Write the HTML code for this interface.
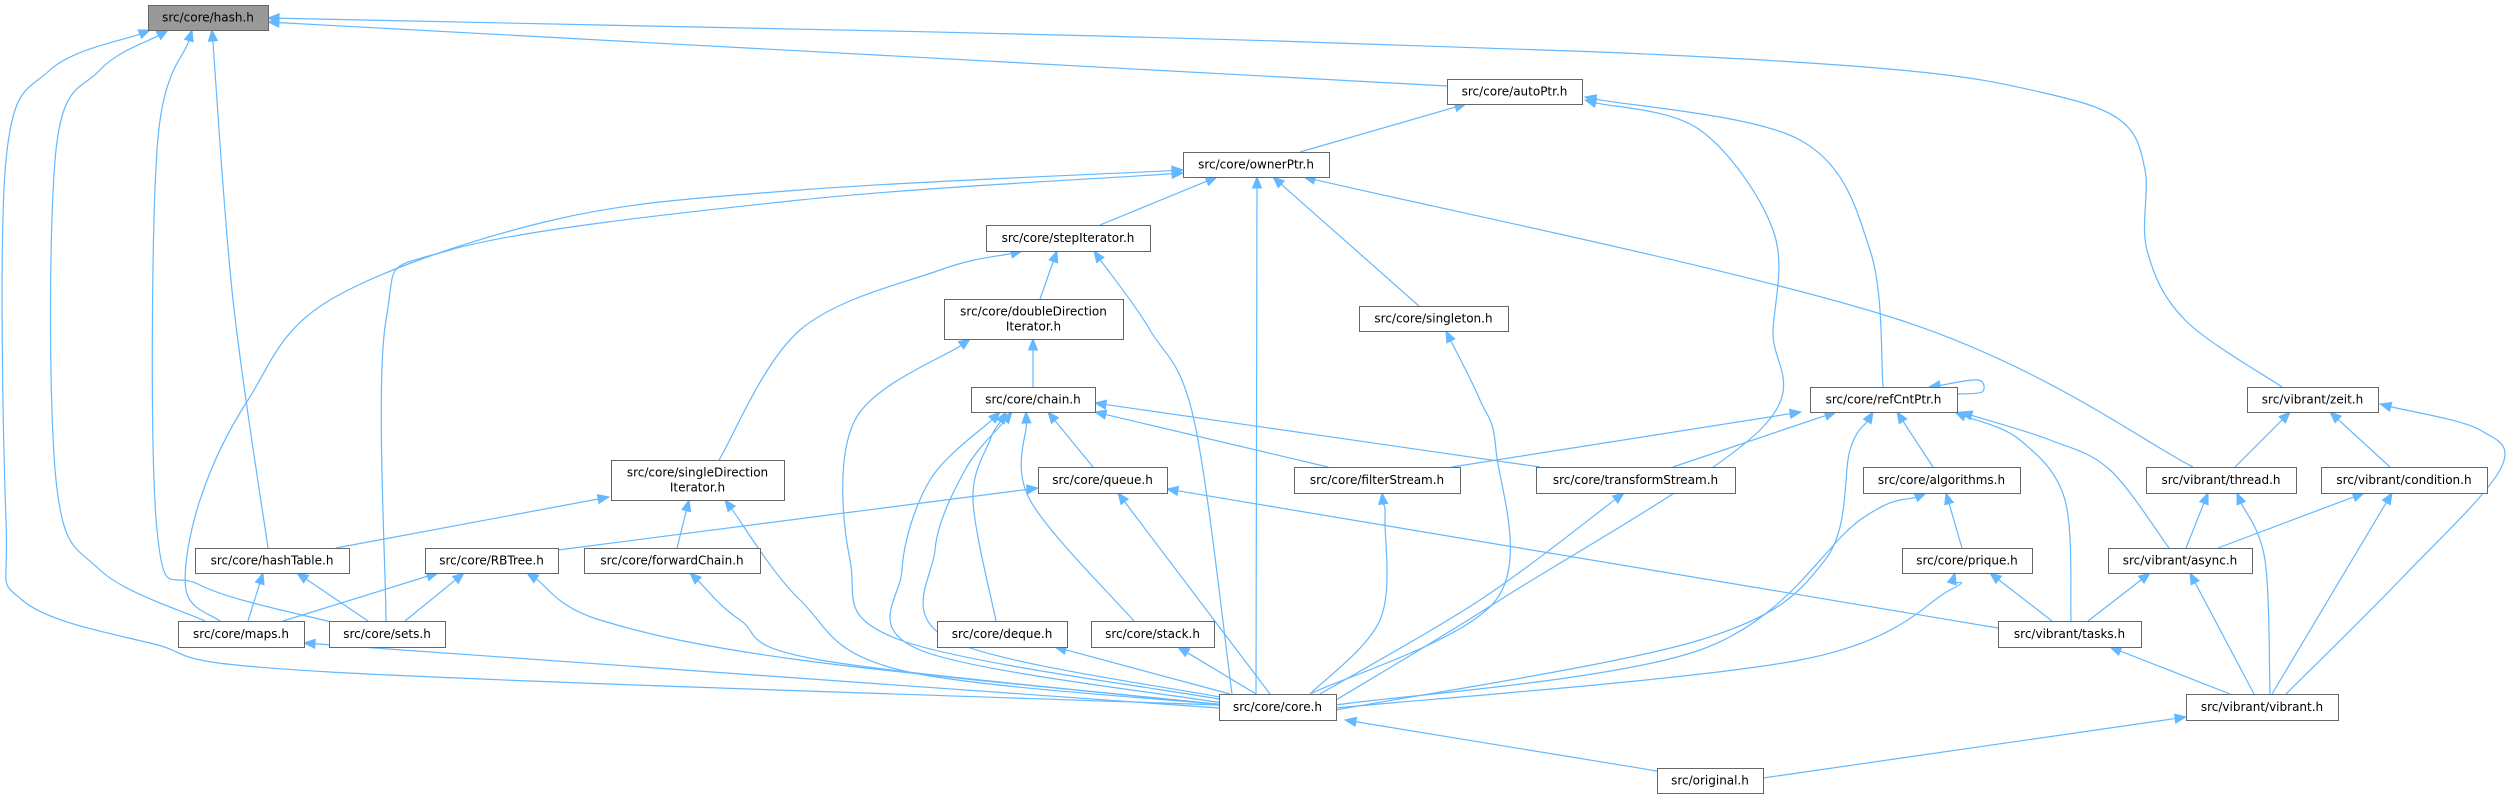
<!DOCTYPE html>
<html><head><meta charset="utf-8"><style>
html,body{margin:0;padding:0;background:#fff;}
svg{display:block}
text{font-family:"DejaVu Sans","Liberation Sans",sans-serif;font-size:12px;fill:#000}
</style></head><body>
<svg id="g" width="2512" height="799" viewBox="0 0 2512 799" xmlns="http://www.w3.org/2000/svg">
<g id="edges" fill="none" stroke="#63b8ff" stroke-width="1.2"></g>
<g id="heads" fill="#63b8ff" stroke="#63b8ff"></g>
<g id="nodes"></g>
</svg>
<script>
var N={
hash:[148,5,268,30,"src/core/hash.h",1],
autoPtr:[1447,79,1582,104,"src/core/autoPtr.h"],
ownerPtr:[1183,152,1329,177,"src/core/ownerPtr.h"],
stepIt:[986,225,1150,251,"src/core/stepIterator.h"],
dbl:[944,299,1123,339,"src/core/doubleDirection|Iterator.h"],
singleton:[1359,306,1508,331,"src/core/singleton.h"],
chain:[971,387,1095,412,"src/core/chain.h"],
ref:[1810,387,1957,412,"src/core/refCntPtr.h"],
zeit:[2247,387,2378,412,"src/vibrant/zeit.h"],
sdi:[611,460,784,500,"src/core/singleDirection|Iterator.h"],
queue:[1038,467,1167,493,"src/core/queue.h"],
filt:[1294,467,1460,493,"src/core/filterStream.h"],
trans:[1536,467,1735,493,"src/core/transformStream.h"],
alg:[1863,467,2020,493,"src/core/algorithms.h"],
thread:[2146,467,2296,493,"src/vibrant/thread.h"],
cond:[2321,467,2487,493,"src/vibrant/condition.h"],
htab:[195,548,349,573,"src/core/hashTable.h"],
rb:[425,548,558,573,"src/core/RBTree.h"],
fwd:[584,548,760,573,"src/core/forwardChain.h"],
prique:[1902,548,2032,573,"src/core/prique.h"],
async:[2108,548,2252,573,"src/vibrant/async.h"],
maps:[178,621,304,647,"src/core/maps.h"],
sets:[329,621,445,647,"src/core/sets.h"],
deque:[937,621,1067,647,"src/core/deque.h"],
stack:[1091,621,1214,647,"src/core/stack.h"],
tasks:[1998,621,2141,647,"src/vibrant/tasks.h"],
core:[1219,694,1336,720,"src/core/core.h"],
vib:[2186,694,2338,720,"src/vibrant/vibrant.h"],
orig:[1657,768,1763,793,"src/original.h"]
};
var E=[
[[1219,705],[330,672],[150,643],[22,600],[6,520],[6,160],[50,70],[150,30]],
[[205,621],[100,570],[56,480],[56,150],[100,70],[168,30]],
[[335,623],[200,585],[157,530],[157,150],[192,30]],
[[268,548],[233,300],[212,30]],
[[1447,86],[268,22]],
[[2282,387],[2185,320],[2147,250],[2145,170],[2120,120],[2040,92],[1900,70],[1600,52],[1100,36],[600,25],[268,18]],
[[1300,152],[1466,104]],
[[1336,700],[1500,600],[1760,430],[1773,330],[1773,230],[1700,130],[1585,100]],
[[1883,387],[1870,250],[1800,140],[1585,97]],
[[1100,225],[1217,177]],
[[1419,306],[1273,177]],
[[1256,694],[1257,177]],
[[2193,467],[1900,320],[1304,177]],
[[220,621],[186,590],[200,500],[248,400],[330,300],[553,220],[800,190],[1183,170]],
[[386,621],[386,320],[450,250],[800,200],[1183,173]],
[[1040,299],[1057,251]],
[[719,460],[800,330],[940,270],[1022,251]],
[[1232,694],[1194,420],[1150,330],[1094,251]],
[[1033,387],[1033,339]],
[[1225,700],[900,640],[850,560],[855,420],[970,339]],
[[1093,467],[1048,412]],
[[996,621],[973,500],[990,440],[1006,412]],
[[1134,621],[1030,500],[1026,412]],
[[1222,703],[920,650],[902,570],[930,480],[1000,412]],
[[1225,698],[950,640],[935,550],[965,470],[1012,412]],
[[1328,467],[1095,412]],
[[1540,467],[1095,403]],
[[1310,694],[1496,600],[1496,450],[1480,400],[1446,331]],
[[1957,394],[1982,392],[1978,380],[1929,387]],
[[1452,467],[1801,412]],
[[1673,467],[1836,412]],
[[1933,467],[1897,412]],
[[1336,710],[1700,640],[1825,560],[1850,450],[1873,412]],
[[2071,621],[2065,500],[2020,440],[1955,412]],
[[2169,548],[2110,470],[2050,440],[1961,412]],
[[2235,467],[2290,412]],
[[2390,467],[2330,412]],
[[2286,694],[2400,580],[2500,470],[2480,430],[2380,404]],
[[336,548],[609,497]],
[[677,548],[689,500]],
[[1225,705],[900,670],[800,600],[725,500]],
[[558,550],[1038,488]],
[[1270,694],[1118,493]],
[[1998,628],[1167,489]],
[[248,621],[263,573]],
[[368,621],[297,573]],
[[283,621],[438,573]],
[[405,621],[464,573]],
[[1225,705],[800,660],[600,620],[527,573]],
[[1225,705],[820,660],[740,620],[690,573]],
[[1219,708],[304,643]],
[[1230,694],[1055,647]],
[[1256,694],[1178,647]],
[[1310,694],[1380,620],[1385,520],[1382,493]],
[[1320,694],[1480,600],[1624,493]],
[[1336,705],[1700,650],[1860,520],[1926,493]],
[[1962,548],[1946,493]],
[[1336,708],[1800,660],[1950,590],[1955,573]],
[[2052,621],[1990,573]],
[[2186,548],[2208,493]],
[[2270,694],[2265,560],[2237,493]],
[[2218,548],[2364,493]],
[[2272,694],[2392,493]],
[[2088,621],[2150,573]],
[[2254,694],[2190,573]],
[[2230,694],[2110,647]],
[[1657,771],[1345,720]],
[[1763,778],[2186,717]]
];
var NS="http://www.w3.org/2000/svg";
function el(t,a,p){var e=document.createElementNS(NS,t);for(var k in a)e.setAttribute(k,a[k]);p.appendChild(e);return e;}
var eg=document.getElementById("edges"),hg=document.getElementById("heads"),ng=document.getElementById("nodes");
E.forEach(function(p){
 p=p.map(function(q){return q.slice();});
 var n=p.length,a=p[n-1],b=p[n-2];
 var dx=a[0]-b[0],dy=a[1]-b[1],L=Math.sqrt(dx*dx+dy*dy)||1;dx/=L;dy/=L;
 var hl=11,hw=4.5;
 var base=[a[0]-dx*hl,a[1]-dy*hl];
 el("polygon",{points:a[0]+","+a[1]+" "+(base[0]-dy*hw)+","+(base[1]+dx*hw)+" "+(base[0]+dy*hw)+","+(base[1]-dx*hw)},hg);
 p[n-1]=base;
 var d="M"+p[0][0]+","+p[0][1];
 if(p.length==2){d+=" L"+p[1][0]+","+p[1][1];}
 else{
  for(var i=0;i<p.length-1;i++){
   var p0=p[i-1]||p[i],p1=p[i],p2=p[i+1],p3=p[i+2]||p2;
   var c1=[p1[0]+(p2[0]-p0[0])/6,p1[1]+(p2[1]-p0[1])/6];
   var c2=[p2[0]-(p3[0]-p1[0])/6,p2[1]-(p3[1]-p1[1])/6];
   d+=" C"+c1[0]+","+c1[1]+" "+c2[0]+","+c2[1]+" "+p2[0]+","+p2[1];
  }
 }
 el("path",{d:d},eg);
});
for(var k in N){
 var v=N[k];
 el("rect",{x:v[0]+0.5,y:v[1]+0.5,width:v[2]-v[0],height:v[3]-v[1],fill:v[5]?"#999999":"#ffffff",stroke:"#666666","stroke-width":1},ng);
 var lines=v[4].split("|"),cx=(v[0]+v[2])/2,cy=(v[1]+v[3])/2;
 lines.forEach(function(s,i){
  var y=cy+4+(i-(lines.length-1)/2)*15;
  var t=el("text",{x:cx,y:y,"text-anchor":"middle"},ng);t.textContent=s;
 });
}
</script>
</body></html>
